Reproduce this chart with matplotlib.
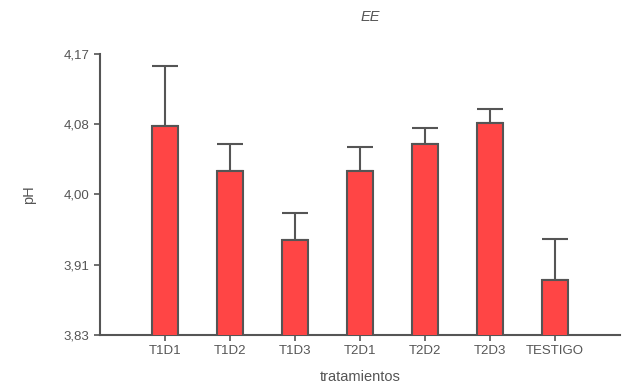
import matplotlib.pyplot as plt
import numpy as np

plt.rcParams.update({
    "font.family": ["Liberation Sans", "DejaVu Sans"],
    "font.size": 9.5,
})

tratamientos = ["T1D1", "T1D2", "T1D3", "T2D1", "T2D2", "T2D3", "TESTIGO"]
ph_medio = [4.083, 4.028, 3.945, 4.028, 4.061, 4.087, 3.897]
ph_error = [0.073, 0.033, 0.032, 0.029, 0.020, 0.016, 0.049]
yticks = [3.83, 3.915, 4.00, 4.085, 4.17]
ytick_labels = ["3,83", "3,91", "4,00", "4,08", "4,17"]

edge = "#555555"
text_col = "#555555"

fig = plt.figure(figsize=(6.28, 3.84), dpi=100)
ax = fig.add_axes([0.159, 0.128, 0.828, 0.731])

pos = np.arange(len(tratamientos))
ax.bar(pos, ph_medio, width=0.4, color="#ff4545", edgecolor=edge, linewidth=1.5, zorder=3)
ax.errorbar(pos, ph_medio, yerr=[np.zeros(len(ph_error)), ph_error], fmt="none",
            ecolor=edge, elinewidth=1.5, capsize=9.5, capthick=1.5, zorder=2)

ax.set_xlim(-1, 7)
ax.set_ylim(3.83, 4.17)
ax.set_yticks(yticks)
ax.set_yticklabels(ytick_labels)
ax.set_xticks(pos)
ax.set_xticklabels(tratamientos)

for s in ("top", "right"):
    ax.spines[s].set_visible(False)
for s in ("left", "bottom"):
    ax.spines[s].set_color(edge)
    ax.spines[s].set_linewidth(1.5)
ax.tick_params(colors=edge, labelcolor=text_col, width=1.2, length=4)

ax.set_ylabel("pH", color=text_col, fontsize=10.5, labelpad=20)
ax.set_xlabel("tratamientos", color=text_col, fontsize=10.5, labelpad=9)
ax.set_title("EE", style="italic", color=text_col, fontsize=10.5, pad=24, x=0.52)

fig.savefig("out.png", dpi=100)
